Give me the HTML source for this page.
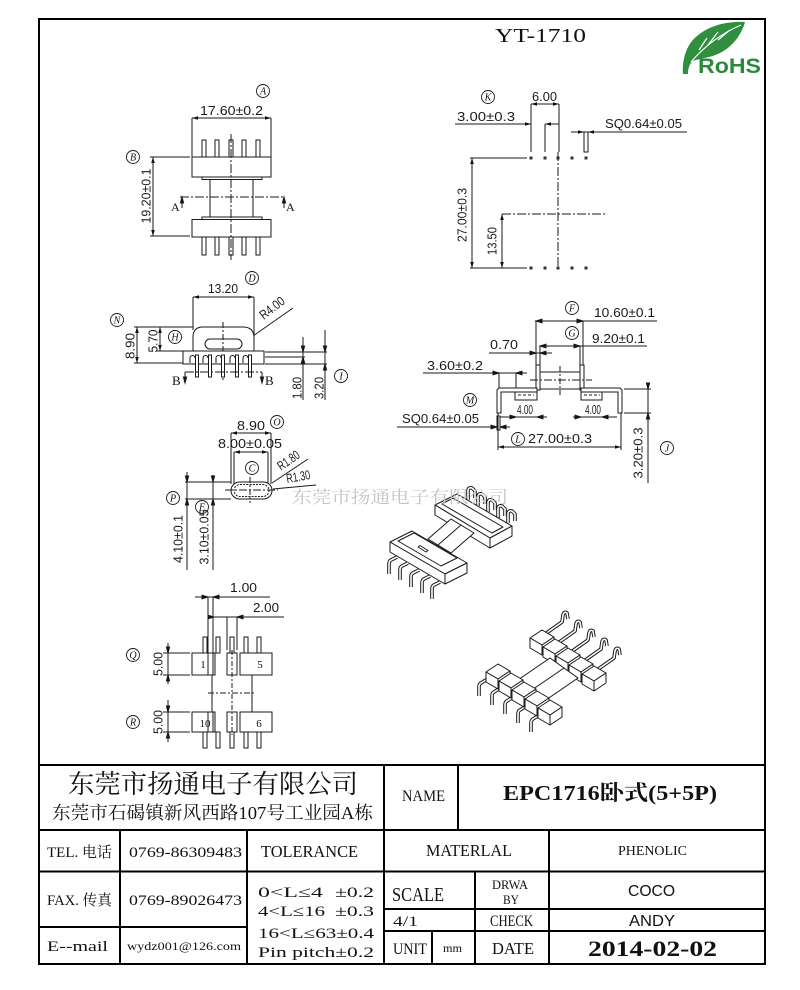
<!DOCTYPE html>
<html><head><meta charset="utf-8"><style>
html,body{margin:0;padding:0;background:#fff}
svg{display:block}
.t{font-family:"Liberation Sans",sans-serif;font-size:13px;fill:#1a1a1a;stroke:none}
.s{font-family:"Liberation Serif","Noto Serif CJK SC",serif;fill:#111;stroke:none}
.cl{font-family:"Liberation Serif",serif;font-style:italic;font-size:10px;fill:#111;stroke:none;text-anchor:middle}
</style></head><body>
<svg width="800" height="990" viewBox="0 0 800 990" xmlns="http://www.w3.org/2000/svg">
<defs>
<marker id="ar" viewBox="0 0 10 6" refX="10" refY="3" markerWidth="6" markerHeight="3.6" markerUnits="userSpaceOnUse" orient="auto-start-reverse"><path d="M0,0L10,3L0,6z" fill="#111"/></marker>
<g id="blk" fill="#fff" stroke="#1a1a1a" stroke-width="1" stroke-linejoin="round"><path d="M0,0L12,-8L24,-1L12,7Z"/><path d="M0,0L12,7L12,17L0,10Z"/><path d="M12,7L24,-1L24,9L12,17Z"/></g>
</defs>
<rect width="800" height="990" fill="#fff"/>

<!-- title and RoHS -->
<text class="s" x="495" y="42" font-size="20" textLength="91" lengthAdjust="spacingAndGlyphs">YT-1710</text>
<path d="M683,74 C682,60 686,45 697,36 C710,25 728,21 745,22 C742,33 734,46 720,53 C710,58 700,58 693,61 C689,64 688,69 688,74 Z" fill="#2f8f3f"/>
<path d="M691,62 C703,48 720,34 741,25 M699,50 L707,38 M708,45 L718,32 M718,40 L730,30" stroke="#fff" stroke-width="1.2" fill="none"/>
<text x="698" y="73" font-family="Liberation Sans,sans-serif" font-weight="bold" font-size="21" fill="#2a8a3b" textLength="63" lengthAdjust="spacingAndGlyphs">RoHS</text>

<g fill="none" stroke="#1a1a1a" stroke-width="1">
<!-- ===== Region 1 top-left view ===== -->
<line x1="192" y1="118" x2="271" y2="118" marker-start="url(#ar)" marker-end="url(#ar)"/>
<path d="M192,118V157M271,118V157"/>
<g fill="#fff">
<rect x="202" y="140" width="4" height="17"/><rect x="215" y="140" width="4" height="17"/><rect x="229" y="140" width="4" height="17"/><rect x="242" y="140" width="4" height="17"/><rect x="256" y="140" width="4" height="17"/>
<rect x="202" y="237" width="4" height="18"/><rect x="215" y="237" width="4" height="18"/><rect x="229" y="237" width="4" height="18"/><rect x="242" y="237" width="4" height="18"/><rect x="256" y="237" width="4" height="18"/>
<rect x="192" y="157" width="79" height="20"/>
<rect x="202" y="177" width="60" height="2.5"/>
<rect x="210" y="179.5" width="43" height="37.5"/>
<rect x="202" y="217" width="60" height="2.5"/>
<rect x="192" y="219.5" width="79" height="17.5"/>
</g>
<line x1="231" y1="134" x2="231" y2="260" stroke-dasharray="9,2,2,2"/>
<line x1="180" y1="197" x2="283" y2="197" stroke-dasharray="9,2,2,2"/>
<path d="M182,197V208M284,197V208"/>
<path d="M182,197l-1.6,6h3.2zM284,197l-1.6,6h3.2z" fill="#111"/>
<path d="M150,157H190M150,236H190"/>
<line x1="153" y1="157" x2="153" y2="236" marker-start="url(#ar)" marker-end="url(#ar)"/>

<!-- ===== Region 2 top-right ===== -->
<line x1="531" y1="104" x2="559" y2="104" marker-start="url(#ar)" marker-end="url(#ar)"/>
<path d="M531,104V152M559,104V152M545,124V152"/>
<line x1="455" y1="124" x2="531" y2="124" marker-end="url(#ar)"/>
<line x1="559" y1="124" x2="545" y2="124" marker-end="url(#ar)"/>
<line x1="571" y1="132" x2="584" y2="132" marker-end="url(#ar)"/>
<line x1="687" y1="132" x2="588" y2="132" marker-end="url(#ar)"/>
<rect x="584" y="132" width="4" height="20" fill="#fff"/>
<g fill="#333" stroke="none">
<rect x="529.5" y="156.5" width="3" height="3"/><rect x="543.5" y="156.5" width="3" height="3"/><rect x="556.5" y="156.5" width="3" height="3"/><rect x="570.5" y="156.5" width="3" height="3"/><rect x="584.5" y="156.5" width="3" height="3"/>
<rect x="529.5" y="266.5" width="3" height="3"/><rect x="543.5" y="266.5" width="3" height="3"/><rect x="556.5" y="266.5" width="3" height="3"/><rect x="570.5" y="266.5" width="3" height="3"/><rect x="584.5" y="266.5" width="3" height="3"/>
</g>
<path d="M470,158H527M470,268H527"/>
<line x1="472" y1="158" x2="472" y2="268" marker-start="url(#ar)" marker-end="url(#ar)"/>
<line x1="502" y1="214" x2="606" y2="214" stroke-dasharray="9,2,2,2"/>
<line x1="502" y1="214" x2="502" y2="268" marker-start="url(#ar)" marker-end="url(#ar)"/>
<line x1="558" y1="152" x2="558" y2="268" stroke-dasharray="9,2,2,2"/>

<!-- ===== Region 3 side view ===== -->
<line x1="193" y1="297" x2="254" y2="297" marker-start="url(#ar)" marker-end="url(#ar)"/>
<path d="M193,297V330M254,297V340"/>
<line x1="253" y1="336" x2="293" y2="308"/>
<path d="M193,351 L193,337 Q193,327 203,327 L243,327 Q254,327 254,338 L254,351" fill="#fff"/>
<rect x="205" y="339" width="37" height="10" rx="5" fill="#fff"/>
<line x1="223" y1="322" x2="223" y2="380" stroke-dasharray="6,2,2,2"/>
<path d="M134,327H193M134,363H183M157,351H183"/>
<line x1="137" y1="327" x2="137" y2="363" marker-start="url(#ar)" marker-end="url(#ar)"/>
<line x1="160" y1="327" x2="160" y2="351" marker-start="url(#ar)" marker-end="url(#ar)"/>
<rect x="183" y="351" width="81" height="13" fill="#fff"/>
<g fill="#fff">
<rect x="195.5" y="355" width="3" height="22"/><rect x="208.5" y="355" width="3" height="22"/><rect x="221.5" y="355" width="3" height="22"/><rect x="235.5" y="355" width="3" height="22"/><rect x="248.5" y="355" width="3" height="22"/>
</g>
<path d="M190,363V358A2.5,2.5 0 0 1 195,358M203,363V358A2.5,2.5 0 0 1 208,358M216,363V358A2.5,2.5 0 0 1 221,358M230,363V358A2.5,2.5 0 0 1 235,358M243,363V358A2.5,2.5 0 0 1 248,358"/>
<line x1="185" y1="372" x2="262" y2="372" stroke-dasharray="9,2,2,2"/>
<path d="M185,372V383M262,372V383"/>
<path d="M185,383l-1.6,-6h3.2zM262,383l-1.6,-6h3.2z" fill="#111"/>
<path d="M265,352H327M265,357H305M265,364H327"/>
<path d="M303,337V400M325,330V400"/>
<path d="M303,352l-1.6,-6h3.2zM303,357l-1.6,6h3.2zM325,352l-1.6,-6h3.2zM325,364l-1.6,6h3.2z" fill="#111"/>

<!-- ===== Region 4 front view ===== -->
<line x1="535" y1="321" x2="657" y2="321"/>
<path d="M536,321l6,-1.8v3.6zM583,321l-6,-1.8v3.6z" fill="#111"/>
<line x1="540" y1="346" x2="647" y2="346"/>
<path d="M540,346l6,-1.8v3.6zM580,346l-6,-1.8v3.6z" fill="#111"/>
<line x1="489" y1="353" x2="552" y2="353"/>
<path d="M536,353l-6,-1.8v3.6zM540,353l6,-1.8v3.6z" fill="#111"/>
<path d="M536,321V365M540,346V365M580,346V365M583,321V365"/>
<rect x="536" y="365" width="4" height="25" fill="#fff"/>
<rect x="580" y="365" width="4" height="25" fill="#fff"/>
<path d="M540,372H580M540,389H580"/>
<line x1="530" y1="380" x2="592" y2="380" stroke-dasharray="8,2,2,2"/>
<line x1="560" y1="366" x2="560" y2="395" stroke-dasharray="6,2,2,2"/>
<line x1="423" y1="373" x2="527" y2="373"/>
<path d="M499,373l-6,-1.8v3.6zM516,373l6,-1.8v3.6z" fill="#111"/>
<path d="M499,373V388M516,373V388"/>
<rect x="515" y="388" width="22" height="12" fill="#fff"/>
<rect x="581" y="388" width="21" height="12" fill="#fff"/>
<polygon points="537,388 499,388 497,390 497,413 501,413 501,392 537,392" fill="#fff"/>
<polygon points="581,388 620,388 622,390 622,413 618,413 618,392 581,392" fill="#fff"/>
<path d="M518,395H534M584,395H600" stroke-dasharray="3,2"/>
<line x1="500" y1="417" x2="547" y2="417"/>
<path d="M516,417l-6,-1.8v3.6zM537,417l6,-1.8v3.6z" fill="#111"/>
<line x1="573" y1="417" x2="617" y2="417"/>
<path d="M581,417l-6,-1.8v3.6zM602,417l6,-1.8v3.6z" fill="#111"/>
<line x1="397" y1="427" x2="510" y2="427"/>
<path d="M497,427l-6,-1.8v3.6zM500,427l6,-1.8v3.6z" fill="#111"/>
<rect x="497" y="416" width="3" height="14" fill="#fff"/>
<path d="M498,413V450M621,413V450"/>
<line x1="498" y1="447" x2="621" y2="447" marker-start="url(#ar)" marker-end="url(#ar)"/>
<path d="M624,389H651M624,413H651"/>
<line x1="648" y1="385" x2="648" y2="483"/>
<path d="M648,389l-1.6,-6h3.2zM648,413l-1.6,6h3.2z" fill="#111"/>

<!-- ===== Region 5 ===== -->
<line x1="231" y1="433" x2="271" y2="433" marker-start="url(#ar)" marker-end="url(#ar)"/>
<line x1="234" y1="452" x2="268" y2="452" marker-start="url(#ar)" marker-end="url(#ar)"/>
<path d="M231,433V484M271,433V484M234,452V484M268,452V484"/>
<rect x="231" y="482" width="41" height="17" rx="8.5" fill="#fff"/>
<rect x="234" y="484.5" width="35" height="12" rx="6" stroke-dasharray="2,1.2"/>
<line x1="225" y1="490" x2="278" y2="490" stroke-dasharray="8,2,2,2"/>
<line x1="250" y1="477" x2="250" y2="503" stroke-dasharray="6,2,2,2"/>
<line x1="272" y1="483" x2="308" y2="459"/>
<line x1="273" y1="489" x2="316" y2="485"/>
<path d="M185,482H231M185,499H231"/>
<line x1="187" y1="472" x2="187" y2="570"/>
<line x1="213" y1="475" x2="213" y2="570"/>
<path d="M187,482l-1.6,-6h3.2zM187,499l-1.6,6h3.2zM213,482l-1.6,-6h3.2zM213,499l-1.6,6h3.2z" fill="#111"/>

<!-- ===== Region 6 ===== -->
<line x1="195" y1="597" x2="270" y2="597"/>
<path d="M208,597l-6,-1.8v3.6zM213,597l6,-1.8v3.6z" fill="#111"/>
<line x1="213" y1="617" x2="284" y2="617"/>
<path d="M214,617l-6,-1.8v3.6zM237,617l6,-1.8v3.6z" fill="#111"/>
<path d="M208,597V675M213,597V675M227,617V650M237,617V650"/>
<g fill="#fff">
<rect x="203" y="637" width="4" height="16"/><rect x="216" y="637" width="4" height="16"/><rect x="230" y="637" width="4" height="16"/><rect x="244" y="637" width="4" height="16"/><rect x="257" y="637" width="4" height="16"/>
<rect x="203" y="732" width="4" height="16"/><rect x="216" y="732" width="4" height="16"/><rect x="230" y="732" width="4" height="16"/><rect x="244" y="732" width="4" height="16"/><rect x="257" y="732" width="4" height="16"/>
<rect x="192" y="653" width="23" height="22"/><rect x="227" y="653" width="10" height="22"/><rect x="240" y="653" width="32" height="22"/>
<rect x="192" y="712" width="23" height="20"/><rect x="227" y="712" width="10" height="20"/><rect x="240" y="712" width="32" height="20"/>
</g>
<path d="M208,653V675M213,653V675M208,712V732M213,712V732"/>
<path d="M212,675V712M252,675V712"/>
<line x1="232" y1="650" x2="232" y2="735" stroke-dasharray="5,2,2,2"/>
<line x1="208" y1="693" x2="256" y2="693" stroke-dasharray="6,2,2,2"/>
<path d="M163,653H190M163,675H190M163,712H190M163,732H190"/>
<path d="M168,643V684M168,700V742"/>
<path d="M168,653l-1.6,-6h3.2zM168,675l-1.6,6h3.2zM168,712l-1.6,-6h3.2zM168,732l-1.6,6h3.2z" fill="#111"/>
</g>

<!-- circle labels -->
<g fill="#fff" stroke="#1a1a1a" stroke-width="0.9">
<circle cx="263" cy="91" r="6.5"/><circle cx="133" cy="157" r="6.5"/><circle cx="488" cy="97" r="6.5"/>
<circle cx="252" cy="278" r="6.5"/><circle cx="117" cy="320" r="6.5"/><circle cx="175" cy="337" r="6.5"/>
<circle cx="341" cy="376" r="6.5"/><circle cx="572" cy="308" r="6.5"/><circle cx="572" cy="333" r="6.5"/>
<circle cx="470" cy="400" r="6.5"/><circle cx="518" cy="439" r="6.5"/><circle cx="667" cy="448" r="6.5"/>
<circle cx="277" cy="422" r="6.5"/><circle cx="252" cy="468" r="6.5"/><circle cx="173" cy="498" r="6.5"/>
<circle cx="202" cy="507" r="6.5"/><circle cx="133" cy="655" r="6.5"/><circle cx="133" cy="722" r="6.5"/>
</g>
<g class="cl">
<text class="cl" x="263" y="94.5">A</text><text class="cl" x="133" y="160.5">B</text><text class="cl" x="488" y="100.5">K</text>
<text class="cl" x="252" y="281.5">D</text><text class="cl" x="117" y="323.5">N</text><text class="cl" x="175" y="340.5">H</text>
<text class="cl" x="341" y="379.5">I</text><text class="cl" x="572" y="311.5">F</text><text class="cl" x="572" y="336.5">G</text>
<text class="cl" x="470" y="403.5">M</text><text class="cl" x="518" y="442.5">L</text><text class="cl" x="667" y="451.5">J</text>
<text class="cl" x="277" y="425.5">O</text><text class="cl" x="252" y="471.5">C</text><text class="cl" x="173" y="501.5">P</text>
<text class="cl" x="202" y="510.5">E</text><text class="cl" x="133" y="658.5">Q</text><text class="cl" x="133" y="725.5">R</text>
</g>

<!-- dimension texts -->
<g class="t">
<text class="t" x="200" y="115" textLength="63" lengthAdjust="spacingAndGlyphs">17.60±0.2</text>
<text class="t" text-anchor="middle" transform="translate(146,196) rotate(-90)" y="4.5" textLength="55" lengthAdjust="spacingAndGlyphs">19.20±0.1</text>
<text class="s" x="171" y="211" font-size="12">A</text><text class="s" x="286" y="211" font-size="12">A</text>
<text class="t" x="532" y="101" textLength="25" lengthAdjust="spacingAndGlyphs">6.00</text>
<text class="t" x="457" y="121" textLength="58" lengthAdjust="spacingAndGlyphs">3.00±0.3</text>
<text class="t" x="605" y="128" textLength="77" lengthAdjust="spacingAndGlyphs">SQ0.64±0.05</text>
<text class="t" text-anchor="middle" transform="translate(462,215) rotate(-90)" y="4.5" textLength="54" lengthAdjust="spacingAndGlyphs">27.00±0.3</text>
<text class="t" text-anchor="middle" transform="translate(492,241) rotate(-90)" y="4.5" textLength="28" lengthAdjust="spacingAndGlyphs">13.50</text>
<text class="t" x="208" y="293" textLength="30" lengthAdjust="spacingAndGlyphs">13.20</text>
<text class="t" text-anchor="middle" transform="translate(130,346) rotate(-90)" y="4.5" textLength="26" lengthAdjust="spacingAndGlyphs">8.90</text>
<text class="t" text-anchor="middle" transform="translate(153,341) rotate(-90)" y="4.5" textLength="23" lengthAdjust="spacingAndGlyphs">5.70</text>
<text class="t" text-anchor="middle" font-size="11" transform="translate(276,313) rotate(-38)" y="-2" textLength="28" lengthAdjust="spacingAndGlyphs">R4.00</text>
<text class="s" x="172" y="385" font-size="13">B</text><text class="s" x="265" y="385" font-size="13">B</text>
<text class="t" text-anchor="middle" transform="translate(297,388) rotate(-90)" y="4.5" textLength="22" lengthAdjust="spacingAndGlyphs">1.80</text>
<text class="t" text-anchor="middle" transform="translate(319,388) rotate(-90)" y="4.5" textLength="22" lengthAdjust="spacingAndGlyphs">3.20</text>
<text class="t" x="594" y="317" textLength="61" lengthAdjust="spacingAndGlyphs">10.60±0.1</text>
<text class="t" x="592" y="343" textLength="53" lengthAdjust="spacingAndGlyphs">9.20±0.1</text>
<text class="t" x="490" y="349" textLength="28" lengthAdjust="spacingAndGlyphs">0.70</text>
<text class="t" x="427" y="370" textLength="56" lengthAdjust="spacingAndGlyphs">3.60±0.2</text>
<text class="t" x="517" y="414" font-size="10" textLength="16" lengthAdjust="spacingAndGlyphs">4.00</text>
<text class="t" x="585" y="414" font-size="10" textLength="16" lengthAdjust="spacingAndGlyphs">4.00</text>
<text class="t" x="402" y="423" textLength="77" lengthAdjust="spacingAndGlyphs">SQ0.64±0.05</text>
<text class="t" x="528" y="443" textLength="64" lengthAdjust="spacingAndGlyphs">27.00±0.3</text>
<text class="t" text-anchor="middle" transform="translate(638,453) rotate(-90)" y="4.5" textLength="51" lengthAdjust="spacingAndGlyphs">3.20±0.3</text>
<text class="t" x="237" y="430" textLength="28" lengthAdjust="spacingAndGlyphs">8.90</text>
<text class="t" x="218" y="448" textLength="64" lengthAdjust="spacingAndGlyphs">8.00±0.05</text>
<text class="t" text-anchor="middle" font-size="10" transform="translate(291,464) rotate(-35)" textLength="24" lengthAdjust="spacingAndGlyphs">R1.80</text>
<text class="t" text-anchor="middle" font-size="10" transform="translate(299,481) rotate(-10)" textLength="24" lengthAdjust="spacingAndGlyphs">R1.30</text>
<text class="t" text-anchor="middle" transform="translate(178,539) rotate(-90)" y="4.5" textLength="48" lengthAdjust="spacingAndGlyphs">4.10±0.1</text>
<text class="t" text-anchor="middle" transform="translate(204,537) rotate(-90)" y="4.5" textLength="55" lengthAdjust="spacingAndGlyphs">3.10±0.05</text>
<text class="t" x="230" y="592" textLength="27" lengthAdjust="spacingAndGlyphs">1.00</text>
<text class="t" x="253" y="612" textLength="26" lengthAdjust="spacingAndGlyphs">2.00</text>
<text class="t" text-anchor="middle" transform="translate(158,664) rotate(-90)" y="4.5" textLength="24" lengthAdjust="spacingAndGlyphs">5.00</text>
<text class="t" text-anchor="middle" transform="translate(158,722) rotate(-90)" y="4.5" textLength="24" lengthAdjust="spacingAndGlyphs">5.00</text>
<text class="s" x="203" y="668" font-size="11" text-anchor="middle">1</text>
<text class="s" x="260" y="668" font-size="11" text-anchor="middle">5</text>
<text class="s" x="205" y="727" font-size="11" text-anchor="middle">10</text>
<text class="s" x="259" y="727" font-size="11" text-anchor="middle">6</text>
</g>

<!-- ===== Upper 3D view ===== -->
<g stroke-linejoin="round" fill="none">
<path stroke="#1a1a1a" stroke-width="3.6" d="M468,500V491Q468,487 472,488L475,491V498M478,506V497Q478,493 482,494L485,497V504M488,512V503Q488,499 492,500L495,503V510M498,518V509Q498,505 502,506L505,509V516M508,523V514Q508,510 512,511L515,514V521"/>
<path stroke="#fff" stroke-width="1.6" d="M468,500V491Q468,487 472,488L475,491V498M478,506V497Q478,493 482,494L485,497V504M488,512V503Q488,499 492,500L495,503V510M498,518V509Q498,505 502,506L505,509V516M508,523V514Q508,510 512,511L515,514V521"/>
</g>
<g fill="#fff" stroke="#1a1a1a" stroke-width="1" stroke-linejoin="round">
<polygon points="435,505 457,494 512,526 490,538"/>
<polygon points="435,505 490,538 490,548 435,515"/>
<polygon points="490,538 512,526 512,536 490,548"/>
<polygon points="442,504 453,498 503,527 492,533"/>
<polygon points="428,539 451,519 474,533 451,553"/>
<line x1="438" y1="545" x2="461" y2="525"/>
<polygon points="390,542 412,531 467,563 445,574"/>
<polygon points="390,542 445,574 445,584 390,552"/>
<polygon points="445,574 467,563 467,573 445,584"/>
<polygon points="398,541 414,533 457,558 441,566"/>
<path d="M418,547l8,5l2,-1.5l-8,-5z"/>
</g>
<g fill="none" stroke-linejoin="round">
<path stroke="#1a1a1a" stroke-width="3.6" d="M397,557L391,560Q389,561 389,564V574M408,563L402,566Q400,567 400,570V580M419,570L413,573Q411,574 411,577V587M430,576L424,579Q422,580 422,583V593M440,582L434,585Q432,586 432,589V599"/>
<path stroke="#fff" stroke-width="1.6" d="M397,557L391,560Q389,561 389,564V574M408,563L402,566Q400,567 400,570V580M419,570L413,573Q411,574 411,577V587M430,576L424,579Q422,580 422,583V593M440,582L434,585Q432,586 432,589V599"/>
</g>

<!-- ===== Lower 3D view ===== -->
<g fill="none" stroke-linejoin="round">
<path stroke="#1a1a1a" stroke-width="3.6" d="M545,634L562,622L563,615Q564,611 567,613L568,619M558,643L575,631L576,624Q577,620 580,622L581,628M571,652L588,640L589,633Q590,629 593,631L594,637M584,661L601,649L602,642Q603,638 606,640L607,646M597,670L614,658L615,651Q616,647 619,649L620,655"/>
<path stroke="#fff" stroke-width="1.6" d="M545,634L562,622L563,615Q564,611 567,613L568,619M558,643L575,631L576,624Q577,620 580,622L581,628M571,652L588,640L589,633Q590,629 593,631L594,637M584,661L601,649L602,642Q603,638 606,640L607,646M597,670L614,658L615,651Q616,647 619,649L620,655"/>
</g>
<use href="#blk" x="530" y="638"/>
<use href="#blk" x="543" y="647"/>
<use href="#blk" x="556" y="656"/>
<use href="#blk" x="569" y="665"/>
<use href="#blk" x="582" y="674"/>
<g fill="#fff" stroke="#1a1a1a" stroke-width="1">
<polygon points="512,684 550,658 578,678 540,704"/>
<line x1="526" y1="694" x2="564" y2="668"/>
</g>
<g fill="none" stroke-linejoin="round">
<path stroke="#1a1a1a" stroke-width="3.6" d="M489,678L481,683Q479,684 479,687V696M502,687L494,692Q492,693 492,696V705M515,696L507,701Q505,702 505,705V714M528,705L520,710Q518,711 518,714V723M541,714L533,719Q531,720 531,723V732"/>
<path stroke="#fff" stroke-width="1.6" d="M489,678L481,683Q479,684 479,687V696M502,687L494,692Q492,693 492,696V705M515,696L507,701Q505,702 505,705V714M528,705L520,710Q518,711 518,714V723M541,714L533,719Q531,720 531,723V732"/>
</g>
<use href="#blk" x="486" y="672"/>
<use href="#blk" x="499" y="681"/>
<use href="#blk" x="512" y="690"/>
<use href="#blk" x="525" y="699"/>
<use href="#blk" x="538" y="708"/>

<!-- watermark -->
<text x="292" y="503" font-family="Noto Serif CJK SC,serif" font-size="17" fill="#c4c4c4" textLength="216" lengthAdjust="spacingAndGlyphs">东莞市扬通电子有限公司</text>

<!-- ===== Border & table ===== -->
<g fill="none" stroke="#000" stroke-width="2">
<rect x="39" y="19" width="726" height="945"/>
<path d="M39,765H765M39,830H765M39,871.5H765M39,927H247M384,909H765M384,931H765"/>
<path d="M120,830V964M247,830V964M384,765V964M458,765V830M549,830V964M475,871.5V964M432,931V964"/>
</g>
<g class="s">
<text class="s" x="68" y="793" font-size="26" font-family="Noto Serif CJK SC,serif" textLength="290" lengthAdjust="spacingAndGlyphs">东莞市扬通电子有限公司</text>
<text class="s" x="52" y="819" font-size="18" textLength="321" lengthAdjust="spacingAndGlyphs">东莞市石碣镇新风西路107号工业园A栋</text>
<text class="s" x="47" y="857" font-size="15" textLength="65" lengthAdjust="spacingAndGlyphs">TEL. 电话</text>
<text class="s" x="129" y="857" font-size="15" textLength="113" lengthAdjust="spacingAndGlyphs">0769-86309483</text>
<text class="s" x="261" y="857" font-size="17" textLength="97" lengthAdjust="spacingAndGlyphs">TOLERANCE</text>
<text class="s" x="47" y="905" font-size="15" textLength="65" lengthAdjust="spacingAndGlyphs">FAX. 传真</text>
<text class="s" x="129" y="905" font-size="15" textLength="113" lengthAdjust="spacingAndGlyphs">0769-89026473</text>
<text class="s" x="47" y="951" font-size="15" textLength="61" lengthAdjust="spacingAndGlyphs">E--mail</text>
<text class="s" x="127" y="950" font-size="12" textLength="114" lengthAdjust="spacingAndGlyphs">wydz001@126.com</text>
<text class="s" x="258" y="897" font-size="15" textLength="65" lengthAdjust="spacingAndGlyphs">0&lt;L≤4</text>
<text class="s" x="335" y="897" font-size="15" textLength="39" lengthAdjust="spacingAndGlyphs">±0.2</text>
<text class="s" x="258" y="916" font-size="15" textLength="67" lengthAdjust="spacingAndGlyphs">4&lt;L≤16</text>
<text class="s" x="335" y="916" font-size="15" textLength="39" lengthAdjust="spacingAndGlyphs">±0.3</text>
<text class="s" x="258" y="938" font-size="15" textLength="116" lengthAdjust="spacingAndGlyphs">16&lt;L≤63±0.4</text>
<text class="s" x="258" y="957" font-size="15" textLength="116" lengthAdjust="spacingAndGlyphs">Pin pitch±0.2</text>
<text class="s" x="402" y="801" font-size="16" textLength="43" lengthAdjust="spacingAndGlyphs">NAME</text>
<text class="s" x="503" y="800" font-size="21" font-weight="bold" textLength="214" lengthAdjust="spacingAndGlyphs">EPC1716卧式(5+5P)</text>
<text class="s" x="426" y="856" font-size="17" textLength="86" lengthAdjust="spacingAndGlyphs">MATERLAL</text>
<text class="s" x="618" y="855" font-size="14" textLength="69" lengthAdjust="spacingAndGlyphs">PHENOLIC</text>
<text class="s" x="392" y="901" font-size="20" textLength="52" lengthAdjust="spacingAndGlyphs">SCALE</text>
<text class="s" x="492" y="889" font-size="13" textLength="36" lengthAdjust="spacingAndGlyphs">DRWA</text>
<text class="s" x="503" y="904" font-size="13" textLength="16" lengthAdjust="spacingAndGlyphs">BY</text>
<text x="628" y="896" font-family="Liberation Sans,sans-serif" font-size="16" fill="#111" textLength="47" lengthAdjust="spacingAndGlyphs">COCO</text>
<text class="s" x="393" y="926" font-size="15" textLength="25" lengthAdjust="spacingAndGlyphs">4/1</text>
<text class="s" x="490" y="926" font-size="16" textLength="43" lengthAdjust="spacingAndGlyphs">CHECK</text>
<text x="629" y="926" font-family="Liberation Sans,sans-serif" font-size="16" fill="#111" textLength="46" lengthAdjust="spacingAndGlyphs">ANDY</text>
<text class="s" x="393" y="954" font-size="16" textLength="34" lengthAdjust="spacingAndGlyphs">UNIT</text>
<text class="s" x="443" y="952" font-size="12" textLength="19" lengthAdjust="spacingAndGlyphs">mm</text>
<text class="s" x="492" y="954" font-size="17" textLength="42" lengthAdjust="spacingAndGlyphs">DATE</text>
<text class="s" x="588" y="956" font-size="22" font-weight="bold" textLength="129" lengthAdjust="spacingAndGlyphs">2014-02-02</text>
</g>
</svg>
</body></html>
